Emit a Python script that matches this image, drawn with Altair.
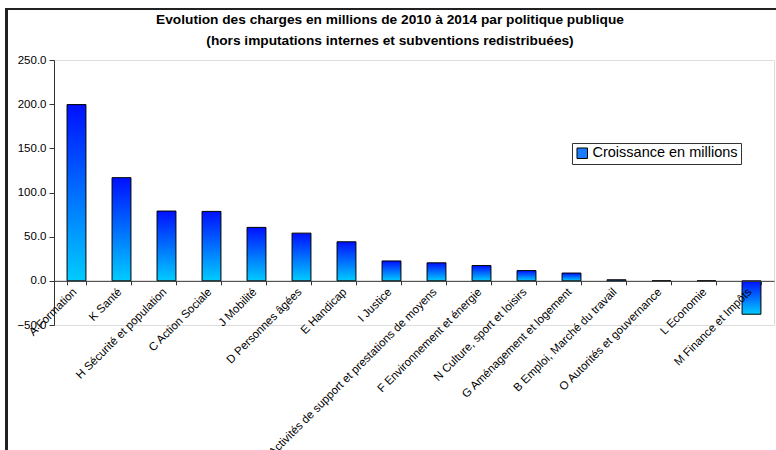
import altair as alt
import pandas as pd

categories = [
    "A Formation", "K Santé", "H Sécurité et population", "C Action Sociale",
    "J Mobilité", "D Personnes âgées", "E Handicap", "I Justice",
    "P Activités de support et prestations de moyens", "F Environnement et énergie",
    "N Culture, sport et loisirs", "G Aménagement et logement",
    "B Emploi, Marché du travail", "O Autorités et gouvernance",
    "L Economie", "M Finance et Impôts",
]
values = [199.5, 116.8, 79.0, 78.6, 60.5, 54.0, 44.2, 22.5,
          20.4, 17.3, 11.6, 8.8, 1.2, 0.0, 0.0, -37.8]
series_name = "Croissance en millions"
y_ticks = [-50, 0, 50, 100, 150, 200, 250]

df = pd.DataFrame({"cat": categories, "val": values, "serie": [series_name] * len(categories)})

W, H = 720, 265
FONT = "Liberation Sans"
zero_offset = -H * 50 / 300  # place category axis at y = 0

grad = alt.Gradient(
    gradient="linear",
    stops=[alt.GradientStop(color="#0010ff", offset=0),
           alt.GradientStop(color="#00ccff", offset=1)],
    x1=0, x2=0, y1=0, y2=1,
)

x_enc = alt.X(
    "cat:N", sort=categories, title=None,
    scale=alt.Scale(paddingInner=0.58, paddingOuter=0.29),
    axis=alt.Axis(
        labelAngle=-45, labelAlign="right", labelBaseline="top",
        labelFont=FONT, labelFontSize=11.5, labelColor="black",
        labelPadding=1, labelOffset=-6, tickBand="extent", tickSize=4,
        tickColor="#333333", domainColor="#333333", offset=zero_offset,
        labelOverlap=False, labelLimit=400, zindex=1,
    ),
)
y_enc = alt.Y(
    "val:Q", title=None,
    scale=alt.Scale(domain=[-50, 250], nice=False, zero=False),
    axis=alt.Axis(
        values=y_ticks, format=".1f", grid=False, labelFont=FONT,
        labelFontSize=11.5, labelColor="black", tickSize=5, labelPadding=3,
        tickColor="#333333", domainColor="#333333",
    ),
)

bars = alt.Chart(df).mark_bar(fill=grad, stroke="black", strokeWidth=1).encode(
    x=x_enc, y=y_enc
)

legend_layer = alt.Chart(df).mark_square(opacity=0, size=0).encode(
    x=alt.X("cat:N", sort=categories),
    y=alt.Y("val:Q"),
    fill=alt.Fill(
        "serie:N", title=None,
        scale=alt.Scale(range=["#1a7dff"]),
        legend=alt.Legend(
            orient="none", legendX=518, legendY=83, symbolType="square",
            symbolOpacity=1, symbolSize=110, symbolStrokeColor="black",
            symbolStrokeWidth=1, labelFont=FONT, labelFontSize=14.5,
            labelColor="black", fillColor="white", strokeColor="#333333",
            padding=3, labelOffset=3, labelLimit=300,
        ),
    ),
)

frame = alt.Chart(df).mark_rect(fill=None, stroke="#222222", strokeWidth=2).encode(
    x=alt.value(-47.5), x2=alt.value(740), y=alt.value(-51), y2=alt.value(420)
)

chart = alt.layer(bars, legend_layer, frame).properties(
    width=W, height=H,
    padding={"left": 54, "top": 60, "right": 2, "bottom": 125},
    autosize=alt.AutoSizeParams(type="none"),
    title=alt.TitleParams(
        text=["Evolution des charges en millions de 2010 à 2014 par politique publique",
              "(hors imputations internes et subventions redistribuées)"],
        font=FONT, fontSize=13.7, fontWeight="bold", color="black",
        anchor="middle", dx=-24, offset=-40, lineHeight=21,
    ),
).configure_view(stroke="#444444", strokeWidth=1.5).configure(background="white")

chart.save("out.html", embed_options={"renderer": "svg", "actions": False})
